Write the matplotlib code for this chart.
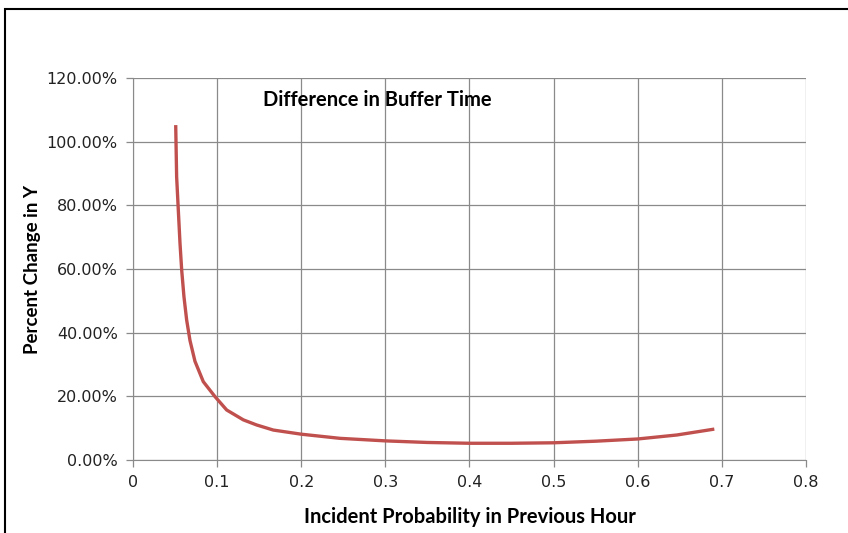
import numpy as np
import matplotlib.pyplot as plt
from matplotlib.patches import Rectangle
from matplotlib.ticker import FuncFormatter

# values
prob = [0.0508, 0.0519, 0.0539, 0.0559, 0.0579, 0.0606, 0.0638, 0.0678,
        0.0737, 0.0836, 0.0975, 0.1114, 0.1312, 0.147, 0.1668,
        0.200, 0.246, 0.300, 0.350, 0.400, 0.450, 0.500, 0.550, 0.600,
        0.6465, 0.691]
pct_change = [105.2, 89.0, 78.5, 68.1, 59.7, 51.3, 44.0, 37.5,
              31.0, 24.6, 19.9, 15.7, 12.6, 11.0, 9.4,
              8.1, 6.8, 6.0, 5.5, 5.25, 5.25, 5.4, 5.9, 6.6,
              7.85, 9.7]

x_ticks = [0, 0.1, 0.2, 0.3, 0.4, 0.5, 0.6, 0.7, 0.8]
y_ticks = [0, 20, 40, 60, 80, 100, 120]

tick_font = ['Liberation Sans Narrow', 'DejaVu Sans']
label_font = ['Lato', 'DejaVu Sans']
grid_col = '#8a8a8a'

fig = plt.figure(figsize=(8.48, 5.33), dpi=100)
ax = fig.add_axes([0.1568, 0.1370, 0.7937, 0.7167])

# chart area border
fig.patches.append(Rectangle((5 / 848, -0.05), 1.2, 1 - 9 / 533 + 0.05,
                             transform=fig.transFigure, fill=False,
                             edgecolor='black', linewidth=1.5))

ax.plot(prob, pct_change, color='#C0504D', linewidth=2.4,
        solid_capstyle='butt', solid_joinstyle='round')

ax.set_xlim(0, 0.8)
ax.set_ylim(0, 120)
ax.set_xticks(x_ticks)
ax.set_yticks(y_ticks)
ax.xaxis.set_major_formatter(FuncFormatter(lambda v, p: '0' if v == 0 else f'{v:g}'))
ax.yaxis.set_major_formatter(FuncFormatter(lambda v, p: f'{v:.2f}%'))
ax.grid(True, color=grid_col, linewidth=0.9)
ax.set_axisbelow(True)
for s in ax.spines.values():
    s.set_visible(False)
ax.spines['left'].set_visible(True)
ax.spines['bottom'].set_visible(True)
ax.spines['left'].set_color(grid_col)
ax.spines['bottom'].set_color(grid_col)
ax.tick_params(direction='out', length=5, color=grid_col, width=0.9, pad=6)
for lab in ax.get_xticklabels() + ax.get_yticklabels():
    lab.set_family(tick_font)
    lab.set_fontsize(11.5)
    lab.set_color('#222222')

ax.text(0.291, 113, 'Difference in Buffer Time', ha='center', va='center',
        fontsize=14.5, fontweight='bold', family=label_font)
ax.set_xlabel('Incident Probability in Previous Hour', fontsize=14.5,
              fontweight='bold', family=label_font, labelpad=12)
ax.set_ylabel('Percent Change in Y', fontsize=13.5, fontweight='bold',
              family=label_font, labelpad=4)

fig.savefig('out.png', dpi=100)
